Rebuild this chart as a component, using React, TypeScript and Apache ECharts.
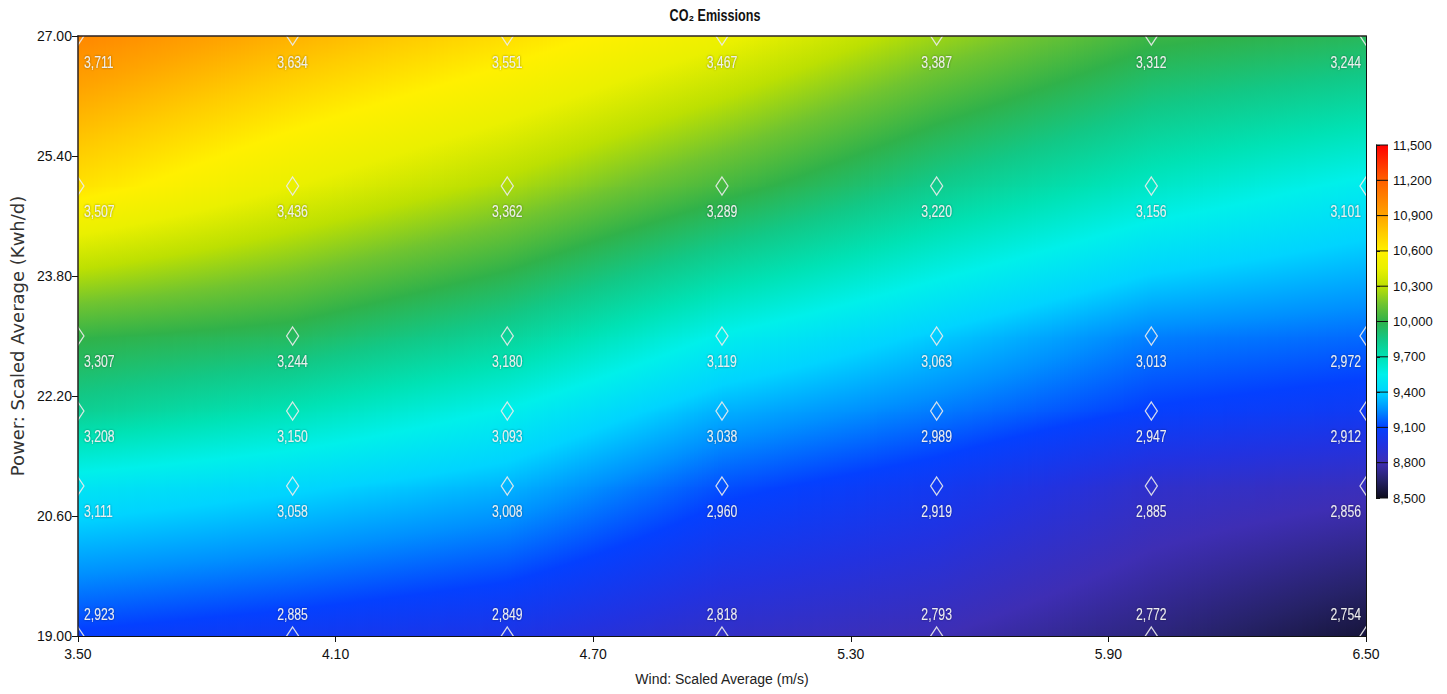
import React, { useEffect, useRef } from "react";
import * as echarts from "echarts";

// ---------- data ----------
const xValues = [3.5, 4.0, 4.5, 5.0, 5.5, 6.0, 6.5];
const yValues = [19, 21, 22, 23, 25, 27];
const xTicks = [3.5, 4.1, 4.7, 5.3, 5.9, 6.5];
const yTicks = [19, 20.6, 22.2, 23.8, 25.4, 27];
const scaleTicks = [8500, 8800, 9100, 9400, 9700, 10000, 10300, 10600, 10900, 11200, 11500];

// CO2 emission labels at design points (rows by power value)
const labels_y19 = [2923, 2885, 2849, 2818, 2793, 2772, 2754];
const labels_y21 = [3111, 3058, 3008, 2960, 2919, 2885, 2856];
const labels_y22 = [3208, 3150, 3093, 3038, 2989, 2947, 2912];
const labels_y23 = [3307, 3244, 3180, 3119, 3063, 3013, 2972];
const labels_y25 = [3507, 3436, 3362, 3289, 3220, 3156, 3101];
const labels_y27 = [3711, 3634, 3551, 3467, 3387, 3312, 3244];

// surface values (colour scale 8,500 - 11,500)
const field_y19 = [9080, 9030, 8970, 8860, 8800, 8690, 8560];
const field_y21 = [9490, 9420, 9330, 9130, 9030, 8880, 8830];
const field_y22 = [9810, 9690, 9540, 9320, 9210, 9090, 9040];
const field_y23 = [10010, 9950, 9790, 9540, 9380, 9220, 9180];
const field_y25 = [10660, 10450, 10270, 10050, 9830, 9650, 9520];
const field_y27 = [11030, 10850, 10680, 10480, 10240, 10030, 9960];

// colour map
const cmapValues = [8500, 8650, 8800, 8950, 9100, 9250, 9400, 9550, 9700, 9850, 10000, 10150, 10300, 10450, 10600, 10750, 10900, 11200, 11500];
const cmapColors = ["#0c0c1c", "#262268", "#3e2eb4", "#2232e0", "#0440ff", "#0090ff", "#00d4ff", "#00f0ea", "#00e2b4", "#12c886", "#30b24a", "#70c430", "#bce002", "#eaf000", "#fff000", "#ffcc00", "#ffa400", "#ff6000", "#ff0000"];

const labelRows = [labels_y19, labels_y21, labels_y22, labels_y23, labels_y25, labels_y27];
const fieldRows = [field_y19, field_y21, field_y22, field_y23, field_y25, field_y27];

const SANS = '"Liberation Sans", Arial, sans-serif';

function hexToRgb(h: string) {
  return [parseInt(h.slice(1, 3), 16), parseInt(h.slice(3, 5), 16), parseInt(h.slice(5, 7), 16)];
}
const cmapRgb = cmapColors.map(hexToRgb);

function colorAt(v: number): string {
  const n = cmapValues.length;
  if (v <= cmapValues[0]) return cmapColors[0];
  if (v >= cmapValues[n - 1]) return cmapColors[n - 1];
  let i = 0;
  while (i < n - 2 && v > cmapValues[i + 1]) i++;
  const t = (v - cmapValues[i]) / (cmapValues[i + 1] - cmapValues[i]);
  const a = cmapRgb[i], b = cmapRgb[i + 1];
  const c = a.map((av, k) => Math.round(av + (b[k] - av) * t));
  return `rgb(${c[0]},${c[1]},${c[2]})`;
}

function gradientFor(vTop: number, vBot: number) {
  const stops: { offset: number; color: string }[] = [{ offset: 0, color: colorAt(vTop) }];
  const lo = Math.min(vTop, vBot), hi = Math.max(vTop, vBot);
  if (hi - lo > 1e-6) {
    for (const s of cmapValues) {
      if (s > lo && s < hi) stops.push({ offset: (s - vTop) / (vBot - vTop), color: colorAt(s) });
    }
  }
  stops.push({ offset: 1, color: colorAt(vBot) });
  stops.sort((a, b) => a.offset - b.offset);
  return { type: "linear", x: 0, y: 0, x2: 0, y2: 1, colorStops: stops, global: false };
}

// cells between grid nodes: [x0, y0, x1, y1, vBL, vBR, vTL, vTR]
const cellData: number[][] = [];
for (let j = 0; j < yValues.length - 1; j++) {
  for (let i = 0; i < xValues.length - 1; i++) {
    cellData.push([
      xValues[i], yValues[j], xValues[i + 1], yValues[j + 1],
      fieldRows[j][i], fieldRows[j][i + 1], fieldRows[j + 1][i], fieldRows[j + 1][i + 1],
    ]);
  }
}
const pointData: number[][] = [];
for (let j = 0; j < yValues.length; j++) {
  for (let i = 0; i < xValues.length; i++) {
    pointData.push([xValues[i], yValues[j], labelRows[j][i]]);
  }
}

const X_MIN = xValues[0], X_MAX = xValues[xValues.length - 1];
const Y_MIN = yValues[0], Y_MAX = yValues[yValues.length - 1];

export default function App() {
  const ref = useRef<HTMLDivElement>(null);
  useEffect(() => {
    document.body.style.margin = "0";
    const chart = echarts.init(ref.current!, null, { renderer: "svg" });
    const axisLabelStyle = { color: "#111", fontFamily: SANS, fontSize: 14 };
    chart.setOption({
      animation: false,
      backgroundColor: "#ffffff",
      graphic: [
        {
          type: "text", x: 715, y: 15, scaleX: 0.74, z: 20,
          style: { text: "CO₂ Emissions", align: "center", verticalAlign: "middle",
            fill: "#111", fontFamily: SANS, fontSize: 17, fontWeight: "bold" },
        },
      ],
      grid: [
        { left: 63, top: 36, width: 1303, height: 600, containLabel: false },
        { left: 1376, top: 145, width: 12, height: 353, containLabel: false },
      ],
      xAxis: [
        {
          gridIndex: 0, type: "value", min: X_MIN, max: X_MAX, position: "bottom", z: 10,
          axisLine: { show: true, onZero: false, lineStyle: { color: "#111", width: 1 } },
          axisTick: { show: true, inside: false, length: 6, customValues: xTicks, lineStyle: { color: "#111" } },
          axisLabel: { show: true, customValues: xTicks, margin: 11, formatter: (v: number) => v.toFixed(2), ...axisLabelStyle },
          splitLine: { show: false },
          name: "Wind: Scaled Average (m/s)", nameLocation: "middle", nameGap: 36,
          nameTextStyle: { color: "#222", fontFamily: SANS, fontSize: 14 },
        },
        {
          gridIndex: 0, type: "value", min: X_MIN, max: X_MAX, position: "top", z: 10,
          axisLine: { show: true, onZero: false, lineStyle: { color: "#2a2222", width: 1.5 } },
          axisTick: { show: false }, axisLabel: { show: false }, splitLine: { show: false },
        },
        { gridIndex: 1, type: "value", min: 0, max: 1, show: false },
      ],
      yAxis: [
        {
          gridIndex: 0, type: "value", min: Y_MIN, max: Y_MAX, position: "left", z: 10,
          axisLine: { show: true, onZero: false, lineStyle: { color: "#2a2222", width: 1.5 } },
          axisTick: { show: true, inside: false, length: 6, customValues: yTicks, lineStyle: { color: "#111" } },
          axisLabel: { show: true, customValues: yTicks, margin: 6, formatter: (v: number) => v.toFixed(2), ...axisLabelStyle },
          splitLine: { show: false },
          name: "Power: Scaled Average (Kwh/d)", nameLocation: "middle", nameGap: 44,
          nameTextStyle: { color: "#333", fontFamily: '"DejaVu Sans", Verdana, sans-serif', fontSize: 18 },
        },
        {
          gridIndex: 0, type: "value", min: Y_MIN, max: Y_MAX, position: "right", z: 10,
          axisLine: { show: true, onZero: false, lineStyle: { color: "#111", width: 1 } },
          axisTick: { show: false }, axisLabel: { show: false }, splitLine: { show: false },
        },
        {
          gridIndex: 1, type: "value", min: scaleTicks[0], max: scaleTicks[scaleTicks.length - 1], position: "right", z: 10,
          axisLine: { show: true, lineStyle: { color: "#111", width: 1 } },
          axisTick: { show: true, inside: false, length: 4, customValues: scaleTicks, lineStyle: { color: "#111" } },
          axisLabel: { show: true, customValues: scaleTicks, margin: 5, color: "#111", fontFamily: SANS, fontSize: 13,
            formatter: (v: number) => v.toLocaleString("en-US") },
          splitLine: { show: false },
        },
      ],
      series: [
        {
          type: "custom", name: "surface", xAxisIndex: 0, yAxisIndex: 0, clip: true, z: 1, silent: true,
          data: cellData,
          renderItem: (params: any, api: any) => {
            const x0 = api.value(0), y0 = api.value(1), x1 = api.value(2), y1 = api.value(3);
            const vBL = api.value(4), vBR = api.value(5), vTL = api.value(6), vTR = api.value(7);
            const pBL = api.coord([x0, y0]);
            const pTR = api.coord([x1, y1]);
            const left = pBL[0], right = pTR[0], top = pTR[1], bottom = pBL[1];
            const w = right - left;
            const n = Math.max(1, Math.round(w / 4));
            const sw = w / n;
            const children: any[] = [];
            for (let k = 0; k < n; k++) {
              const t = (k + 0.5) / n;
              const vt = vTL + (vTR - vTL) * t;
              const vb = vBL + (vBR - vBL) * t;
              children.push({
                type: "rect",
                shape: { x: left + k * sw, y: top, width: sw + 0.9, height: bottom - top + 0.9 },
                style: { fill: gradientFor(vt, vb) },
              });
            }
            return { type: "group", children };
          },
        },
        {
          type: "custom", name: "points", xAxisIndex: 0, yAxisIndex: 0, clip: true, z: 3, silent: true,
          data: pointData,
          renderItem: (params: any, api: any) => {
            const x = api.value(0), y = api.value(1), lab = api.value(2);
            const p = api.coord([x, y]);
            const cx = p[0], cy = p[1];
            const hw = 6, hh = 9;
            const isLeft = x === X_MIN, isRight = x === X_MAX, isBottom = y === Y_MIN, isTop = y === Y_MAX;
            return {
              type: "group",
              children: [
                {
                  type: "polygon",
                  shape: { points: [[cx, cy - hh], [cx + hw, cy], [cx, cy + hh], [cx - hw, cy]] },
                  style: { fill: "none", stroke: "rgba(235,235,235,0.9)", lineWidth: 1.3 },
                },
                {
                  type: "text",
                  x: isLeft ? cx + 6 : isRight ? cx - 5 : cx,
                  y: isBottom ? cy - 22 : isTop ? cy + 26 : cy + 25,
                  scaleX: 0.72,
                  style: {
                    text: Number(lab).toLocaleString("en-US"),
                    align: isLeft ? "left" : isRight ? "right" : "center",
                    verticalAlign: "middle",
                    fill: "#eeeeee",
                    fontFamily: SANS,
                    fontSize: 17,
                    textShadowColor: "rgba(0,0,0,0.45)",
                    textShadowBlur: 2,
                  },
                },
              ],
            };
          },
        },
        {
          type: "custom", name: "colorbar", xAxisIndex: 2, yAxisIndex: 2, z: 2, silent: true,
          data: [[0, scaleTicks[0], 1, scaleTicks[scaleTicks.length - 1]]],
          renderItem: (params: any, api: any) => {
            const pB = api.coord([api.value(0), api.value(1)]);
            const pT = api.coord([api.value(2), api.value(3)]);
            const vTop = api.value(3), vBot = api.value(1);
            const children: any[] = [{
              type: "rect",
              shape: { x: pB[0], y: pT[1], width: pT[0] - pB[0], height: pB[1] - pT[1] },
              style: { fill: gradientFor(vTop, vBot) },
            }];
            for (const tv of scaleTicks) {
              const py = api.coord([0, tv])[1];
              children.push({
                type: "line",
                shape: { x1: pB[0], y1: py, x2: pT[0], y2: py },
                style: { stroke: "#111", lineWidth: 1 },
              });
            }
            return { type: "group", children };
          },
        },
      ],
    });
    return () => chart.dispose();
  }, []);
  return <div ref={ref} style={{ width: 1447, height: 694 }} />;
}
